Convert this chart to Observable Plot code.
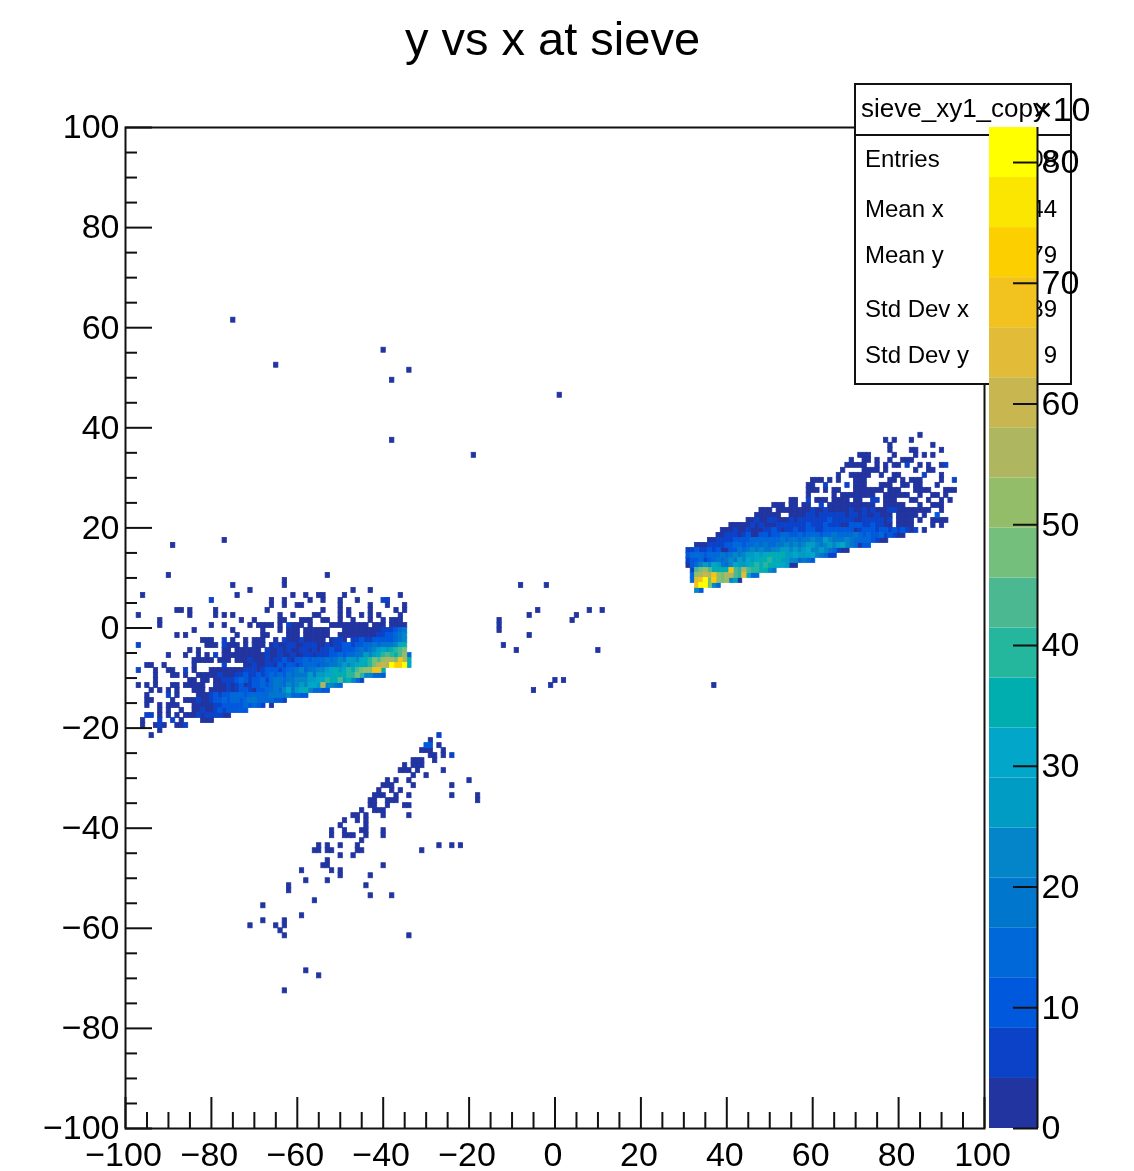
<!DOCTYPE html>
<html>
<head>
<meta charset="utf-8">
<script src="https://cdn.jsdelivr.net/npm/d3@7"></script>
<script src="https://cdn.jsdelivr.net/npm/@observablehq/plot@0.6"></script>
<style>
  html, body { margin: 0; padding: 0; background: #fff; }
  #chart { position: relative; width: 1134px; height: 1171px; overflow: hidden; font-family: "Liberation Sans", Arial, sans-serif; color: #000; filter: blur(0.45px); }
  #chart svg { position: absolute; left: 0; top: 0; }
  #title { position: absolute; left: 0; width: 1105px; top: 12px; text-align: center; font-size: 47px; line-height: 54px; }
  #stats { position: absolute; left: 854px; top: 83px; width: 214px; height: 298px; border: 2px solid #111; background: #fff; }
  #stats .rule { position: absolute; left: 0; right: 0; top: 49px; border-top: 2px solid #111; }
  #stats span { position: absolute; white-space: nowrap; font-size: 24px; line-height: 28px; }
</style>
</head>
<body>
<div id="chart">
  <div id="stats"></div>
  <div id="title">y vs x at sieve</div>
</div>
<script>
// Bin reading: every run is [y bin, x bin of first value, counts...]; 0 = empty bin.
const leftRuns = [
  [-1,-49,2,2,2,2,2,2,2,2,2,6,6,6,10,14,18],
  [-2,-50,2,2,2,2,2,2,2,2,2,6,6,10,10,14,18,22],
  [-3,-82,2,2,2,0,0,6,0,2,0,0,2,0,2,2,2,0,0,2,0,6,2,2,2,6,2,2,2,2,2,0,2,6,6,2,0,6,6,10,6,6,10,10,10,10,10,14,18,22],
  [-4,-81,2,2,2,0,6,2,2,2,0,2,0,2,2,2,0,2,6,2,2,6,6,2,2,6,6,6,2,2,6,2,6,6,10,10,6,10,10,14,14,18,14,18,18,18,22,30,34],
  [-5,-77,2,2,0,2,2,2,2,2,2,0,6,2,2,6,2,6,2,2,6,6,2,6,2,6,6,10,6,6,10,10,10,14,18,14,18,22,26,30,26,34,38,42,46],
  [-6,-77,2,2,2,2,2,2,2,2,2,2,6,2,2,6,2,2,6,2,2,6,6,2,6,6,6,10,10,14,10,14,14,18,18,26,22,26,30,38,42,38,34,42,50,14],
  [-7,-84,2,2,2,2,2,0,2,2,2,0,2,2,2,6,2,2,2,6,2,6,6,10,6,2,10,10,14,10,14,14,14,18,14,18,22,18,26,26,22,30,34,38,46,42,50,56,54,46,70,54,34],
  [-8,-72,2,2,6,2,2,6,6,2,10,6,10,10,6,10,14,14,14,10,14,14,18,18,22,26,22,26,30,34,30,38,46,54,62,58,80,72,72,80,30],
  [-9,-80,2,2,2,2,2,2,2,2,6,6,6,2,6,10,10,10,6,10,14,14,18,22,14,18,18,22,22,26,30,34,26,30,38,34,42,46,50,50,68,70,34],
  [-10,-80,2,2,6,2,2,2,6,6,10,6,6,10,6,10,14,10,14,10,18,14,18,18,18,26,18,26,26,30,30,34,34,34,38,38,46,40,22,22,14,14,10],
  [-11,-79,2,2,6,6,6,10,14,10,6,10,10,14,6,14,18,18,14,18,18,22,22,22,26,26,30,30,38,34,34,42,26,34,22,14,6],
  [-12,-79,2,2,2,6,2,6,10,2,6,10,10,14,10,14,18,18,14,22,18,22,26,22,30,30,26,54,22,22,18,14],
  [-13,-80,2,2,2,2,6,2,6,10,10,6,2,10,10,14,14,18,14,22,30,18,26,30,34,22,14,14,10,10],
  [-14,-83,2,2,2,6,10,6,10,10,14,14,14,10,14,14,14,14,14,18,18,18,18,22,14,14,10,10],
  [-15,-86,2,2,2,6,2,2,6,10,10,14,10,14,14,10,14,18,18,14,14,14,14,10,10,6],
  [-16,-84,2,2,2,2,2,6,6,10,10,10,10,10,14,10,14,10,6],
  [-17,-84,2,2,6,2,2,6,10,6,10,10,10,10,10],
  [-18,-86,2,2,2,6,2,6,6,6,6,2,2],
];
const rightRuns = [
  [7,33,22,10],
  [8,33,70,80,80,46,22,14],
  [9,32,14,66,68,81,46,72,50,46,52,22,26,4],
  [10,32,14,50,56,60,58,68,50,46,56,58,44,38,66,30,14,14],
  [11,32,6,42,46,50,42,36,36,34,36,70,42,40,54,44,40,40,34,34,22,20],
  [12,31,2,10,14,22,26,22,30,26,18,14,24,30,26,26,30,34,38,32,38,36,34,32,30,26,4,2],
  [13,31,6,10,10,14,6,10,14,18,14,18,22,18,26,22,30,26,30,34,34,38,30,34,26,26,22,22,14,18,14,10],
  [14,31,10,14,14,14,10,14,14,14,18,14,18,22,18,22,26,26,30,26,30,34,34,30,34,26,26,30,26,26,26,30,22,18,14,6,6],
  [15,31,6,6,10,6,6,10,6,10,4,4,10,10,18,14,18,22,18,22,18,18,22,22,26,26,22,26,22,26,30,22,22,26,22,18,14,6,4,4],
  [16,33,2,4,4,6,6,6,6,10,10,14,14,10,14,14,18,14,18,14,14,18,18,22,18,22,18,22,26,26,22,18,22,26,22,26,30,22,18,14,4,10,10],
  [17,36,4,4,6,6,6,6,10,10,10,10,14,14,14,14,14,14,14,18,14,18,18,14,18,18,22,18,18,26,22,18,18,18,22,18,14,14,14,14,10,6,4,4],
  [18,38,4,4,6,6,6,4,6,10,4,4,10,10,6,10,10,14,14,10,10,14,10,14,14,14,10,14,14,18,14,14,14,14,18,14,10,14,10,10,14,6,10,6,4,4],
  [19,39,4,2,4,6,4,2,6,2,4,4,6,6,10,6,2,6,6,10,6,6,10,10,6,6,10,10,10,10,10,10,10,4,6,10,10,10,6,10,10,6,10,6,10,6,4,6],
  [20,41,2,2,2,2,2,6,2,6,2,2,2,6,6,6,6,6,6,6,10,6,6,6,10,6,6,6,2,2,10,10,10,6,6,10,6,6,2,2,0,2,2,2,2],
  [21,45,2,2,6,2,2,6,6,2,2,2,6,2,6,6,6,6,6,6,6,10,6,6,6,6,6,2,2,6,6,6,6,6,2,6],
  [22,56,2,2,2,6,6,2,6,6,6,6,6,6,2,6,6,2,6,2,2,6,2,2,2],
  [23,58,2,2,6,2,2,6,2,2,2,2,2,6,2,2,6,2,6,2,2,2,6,6,2,2,2,2,2,2,2,2],
];
// Rows of sparse bins: [y bin, x bins...], each holding a low count.
const scatterRows = [
  [61,-75],[55,-40],[52,-65],[51,-34],[49,-38],[46,1],[37,-38],[34,-19],[17,-77],[16,-89],
  [10,-90,-53],[9,-63],[8,-75,-63,-8,-2],[7,-71,-47,-43],
  [6,-96,-74,-61,-58,-55,-54,-49,-36],
  [5,-66,-63,-57,-54,-50,-46,-39],
  [4,-66,-63,-60,-59,-50,-43,-39,-35],
  [3,-88,-87,-85,-79,-67,-54,-50,-48,-43,-37,-35,-4,8,11],
  [2,-97,-85,-79,-77,-75,-64,-61,-56,-55,-50,-48,-45,-43,-41,-36,-6,5],
  [1,-92,-73,-70,-64,-63,-59,-58,-57,-54,-53,-50,-47,-43,-40,-38,-37,-36,-13,4],
  [0,-92,-80,-77,-71,-69,-68,-67,-66,-64,-61,-60,-59,-57,-52,-51,-50,-49,-48,-47,-46,-45,-44,-42,-41,-40,-38,-37,-36,-35,-13],
  [-1,-84,-75,-68,-64,-62,-61,-60,-58,-57,-56,-55,-54,-53,-13],
  [-2,-88,-86,-74,-68,-67,-62,-61,-60,-58,-57,-56,-55,-54,-53,-6],
  [-4,-12],[-5,-85,-83,-9,10],[-6,-90,-86,-83,-81],
  [-8,-95,-94,-91,-84],[-9,-93,-90,-89,-84],
  [-10,-93,-89,-88,-86,-83,-82,-81],[-11,-93,-85,-84,-82,-81,0,2],
  [-12,-97,-95,-93,-89,-88,-86,-85,-84,-83,-82,-1,37],
  [-13,-94,-92,-90,-88,-84,-83,-82,-5],[-14,-95,-88],[-15,-95,-94,-89],
  [-16,-95,-92,-90,-89,-88,-66],[-17,-92,-90,-87],[-18,-92,-90,-88],
  [-19,-96,-87,-82,-81,-80],[-20,-96,-93,-91,-88,-87],[-21,-92],[-22,-94],
  // lower band
  [-23,-29],[-24,-27],[-25,-31,-30,-29,-26],[-26,-29,-28,-26],
  [-27,-33,-32,-31,-28],[-28,-35,-33,-32,-31],[-29,-36,-35,-34,-32,-26],[-30,-33,-30],
  [-31,-39,-37,-34,-20],[-32,-40,-39,-38,-33,-24],[-33,-41,-38,-36],
  [-34,-42,-41,-40,-37,-34,-24,-18],[-35,-43,-42,-39,-38,-37,-18],[-36,-43,-42,-39,-35,-34],
  [-37,-45,-42,-41,-40],[-38,-47,-46,-44,-40,-34],[-39,-49,-46,-44],[-40,-50,-44],
  [-41,-52,-49,-45,-44,-40],[-42,-52,-49,-48,-47,-44,-40],[-43,-45],
  [-44,-55,-53,-50,-46,-27,-24,-22],[-45,-56,-55,-53,-52,-46,-45,-31],[-46,-50,-47],[-47,-53],
  [-48,-54,-53,-40],[-49,-59,-52,-50],[-50,-50,-43],[-51,-58,-53],[-52,-62,-44],[-53,-62],
  [-54,-43,-38],[-55,-56],[-56,-68],[-58,-59],[-59,-68,-63],[-60,-71,-65,-63],[-61,-64],
  [-62,-63,-34],[-69,-58],[-70,-55],[-73,-63],
  // upper band
  [38,85],[37,77,79,83],[36,78,88],[35,78,83,84,90],[34,71,72,73,79,84,86,88],
  [33,69,72,73,75,78,81,82,83],[32,68,69,70,71,72,75,77,79,80,85,87,90],
  [31,67,72,73,74,75,77,84,87,88],[30,66,69,70,71,72,73,76,79,80,90],
  [29,60,61,62,64,66,70,71,72,78,79,81,83,84,85,90],
  [28,59,60,70,71,72,76,77,78,81,82,84,85,89],
  [27,59,60,61,63,65,66,70,71,72,73,74,75,76,78,79,80,84,85,86,87,91,92,93],
  [26,59,65,67,68,69,70,71,72,73,74,77,78,79,80,81,82,85,88,89,91],
  [25,55,56,61,62,63,65,66,67,68,70,71,77,78,79,83,84,87,90,92],
  [24,51,52,53,55,56,58,59,64,65,66,67,68,69,70,71,72,73,74,77,78,79,80,81,85,88,89,90],
  [23,48,49,50,52,53,54,55,56,57,90],
  [22,47,48,49,50,51,52,55,80,81,82,83,84,86],
  [21,80,81,82,83,85,88,89,90,91],[20,88,90],[19,86],
];
// Brighter sparse bins: [x bin, y bin, count].
const brightCells = [
  [-80,5,6],[-40,5,6],[-39,5,6],[-62,0,6],[-97,-4,6],[-79,-6,6],[-77,-8,6],[-97,-9,6],[-86,-9,6],
  [-90,-14,6],[-95,-18,6],[-94,-18,6],[-92,-19,6],[-89,-19,6],[-92,-20,6],[-86,-20,6],
  [-27,-22,6],[-30,-24,10],[-29,-24,10],[-24,-26,6],
  [82,32,6],[91,32,6],[86,30,6],[93,29,6],[63,28,6],[68,28,6],[59,25,6],[74,25,6],[75,25,6],[62,24,6],[89,22,10],
];
const colorLevels = ["#2134a0","#0c42c8","#0059dc","#0068d8","#0076cc","#0585c9","#009cc4","#02a6c8","#00aeb0","#25b69e","#4cb892","#74bf7c","#94bd6a","#aeb660","#c8b650","#e2bc38","#f2c21e","#fcd000","#fae600","#ffff00"];
const zMax = 82.9;
const levelEdges = colorLevels.map((_, i) => (i + 1) * zMax / 20).slice(0, -1);
const majorTicks = [-100,-80,-60,-40,-20,0,20,40,60,80,100];
const minorTicks = [-95,-90,-85,-75,-70,-65,-55,-50,-45,-35,-30,-25,-15,-10,-5,5,10,15,25,30,35,45,50,55,65,70,75,85,90,95];
const colorTicks = [0,10,20,30,40,50,60,70,80];
const statLabels = ["Entries","Mean x","Mean y","Std Dev x","Std Dev y"];
const statValues = ["08","44","79","89","9"];

const binShift = -0.4;
const cells = [];
for (const [y, x0, ...counts] of [...leftRuns, ...rightRuns])
  counts.forEach((count, i) => { if (count > 0) cells.push({x: x0 + i, y, count}); });
for (const [y, ...xs] of scatterRows)
  for (const x of xs) cells.push({x, y, count: 2});
for (const [x, y, count] of brightCells) cells.push({x, y, count});
cells.sort((a, b) => a.count - b.count);

const fmt = d => d < 0 ? "\u2212" + (-d) : String(d);
const colorScale = {type: "threshold", domain: levelEdges, range: colorLevels};
const baseStyle = {fontFamily: '"Liberation Sans", Arial, sans-serif', background: "transparent", color: "#000"};
const noText = () => "";

const main = Plot.plot({
  width: 1134, height: 1171,
  marginLeft: 125, marginRight: 150, marginTop: 127, marginBottom: 43,
  x: {domain: [-100, 100]},
  y: {domain: [-100, 100]},
  color: colorScale,
  style: baseStyle,
  marks: [
    Plot.rect(cells, {x1: d => d.x + binShift, x2: d => d.x + binShift + 1, y1: d => d.y, y2: d => d.y + 1, fill: "count", stroke: "count", strokeWidth: 0.8}),
    Plot.frame({stroke: "#111", strokeWidth: 2}),
    Plot.axisX({ticks: minorTicks, tickSize: -16, tickFormat: noText, stroke: "#111", strokeWidth: 2}),
    Plot.axisY({ticks: minorTicks, tickSize: -12, tickFormat: noText, stroke: "#111", strokeWidth: 2}),
    Plot.axisX({ticks: majorTicks, tickSize: -31, tickFormat: noText, stroke: "#111", strokeWidth: 2}),
    Plot.axisX({ticks: majorTicks, tickSize: 0, tickPadding: 13, dx: -2, tickFormat: fmt, fontSize: 34, label: null}),
    Plot.axisY({ticks: majorTicks, tickSize: -27, tickPadding: 33, tickFormat: fmt, fontSize: 34, stroke: "#111", strokeWidth: 2, label: null}),
  ]
});
const chart = document.getElementById("chart");
chart.insertBefore(main, chart.firstChild);

// statistics box, underneath the colour bar
const stats = document.getElementById("stats");
const addText = (text, left, top, size, right) => {
  const s = document.createElement("span");
  s.textContent = text;
  if (right !== undefined) s.style.right = right + "px"; else s.style.left = left + "px";
  s.style.top = top + "px";
  if (size) s.style.fontSize = size + "px";
  stats.appendChild(s);
};
const rule = document.createElement("div"); rule.className = "rule"; stats.appendChild(rule);
addText("sieve_xy1_copy", 5, 9, 26);
const statTops = [60, 110, 156, 210, 256];
statLabels.forEach((t, i) => addText(t, 9, statTops[i]));
statValues.forEach((t, i) => addText(t, 0, statTops[i], null, 13));

// colour bar: a second plot drawn on top of the box
const bands = colorLevels.map((_, i) => ({lo: i * zMax / 20, hi: (i + 1) * zMax / 20}));
const bar = Plot.plot({
  width: 1090, height: 1171,
  marginLeft: 989, marginRight: 53, marginTop: 127, marginBottom: 43,
  x: {domain: [0, 1], axis: null},
  y: {domain: [0, zMax]},
  color: colorScale,
  style: baseStyle,
  marks: [
    Plot.rect(bands, {x1: 0, x2: 1, y1: "lo", y2: "hi", fill: d => (d.lo + d.hi) / 2}),
    Plot.ruleX([1], {stroke: "#111", strokeWidth: 2}),
    Plot.axisY({anchor: "right", ticks: colorTicks, tickSize: -25, tickPadding: 29, tickFormat: fmt, fontSize: 34, stroke: "#111", strokeWidth: 2, label: null}),
    Plot.text(["\u00d710"], {frameAnchor: "top-right", dx: 53, dy: -17, fontSize: 34, lineAnchor: "middle", textAnchor: "end"}),
  ]
});
chart.appendChild(bar);
</script>
</body>
</html>
